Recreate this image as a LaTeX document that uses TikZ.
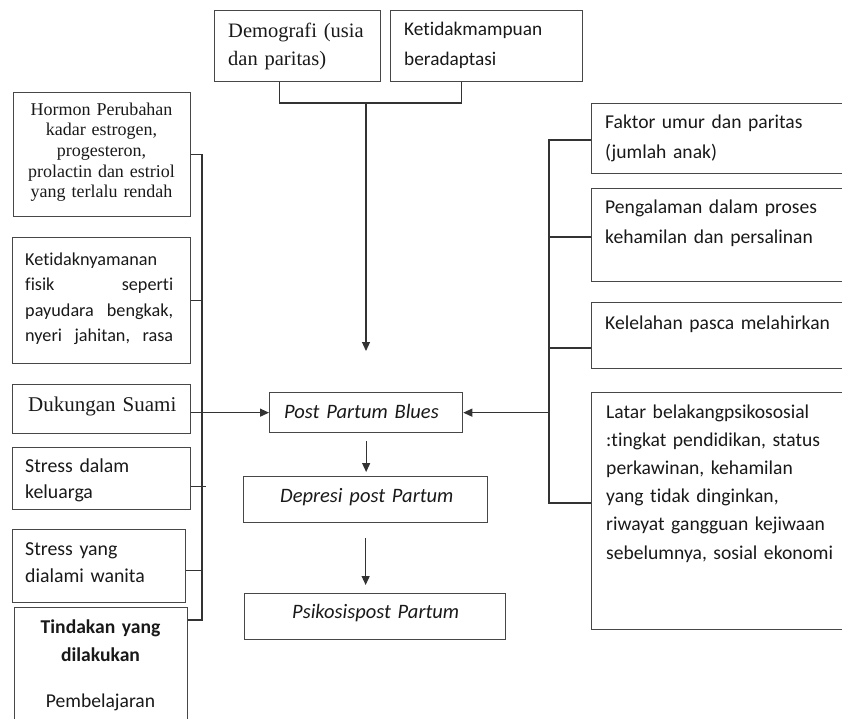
\documentclass[tikz,border=0pt]{standalone}
\usepackage{fontspec}
\setmainfont{Liberation Serif}
\newfontfamily\calfont[Ligatures=NoCommon]{Carlito}
\usetikzlibrary{arrows.meta}
\begin{document}
\begin{tikzpicture}[x=1pt,y=-1pt,
  box/.style={draw=black!72, line width=1.3pt, inner sep=0pt, anchor=north west},
  txt/.style={inner sep=0pt, anchor=base west, text=black!90, align=left},
  ctxt/.style={inner sep=0pt, anchor=base, text=black!90, align=center},
  wire/.style={draw=black!80, line width=1.2pt},
  arr/.style={wire, -{Triangle[width=8pt,length=9pt]}}]
\useasboundingbox (0,0) rectangle (842,718);
\clip (0,0) rectangle (842,718);
% boxes
\node[box, minimum width=166pt, minimum height=71pt] (demo) at (214,10) {};
\node[box, minimum width=192pt, minimum height=71pt] (ketid) at (390,10) {};
\node[box, minimum width=177pt, minimum height=124pt] (hormon) at (13,92) {};
\node[box, minimum width=178pt, minimum height=126pt] (nyaman) at (12,237) {};
\node[box, minimum width=178pt, minimum height=49pt] (dukungan) at (12,384) {};
\node[box, minimum width=178pt, minimum height=62pt] (keluarga) at (12,447) {};
\node[box, minimum width=173pt, minimum height=73pt] (wanita) at (12,529) {};
\node[box, minimum width=173pt, minimum height=160pt] (tindakan) at (14,607) {};
\node[box, minimum width=193pt, minimum height=40pt] (ppb) at (269,392) {};
\node[box, minimum width=244pt, minimum height=46pt] (depresi) at (243,476) {};
\node[box, minimum width=261pt, minimum height=46pt] (psikosis) at (244,593) {};
\node[box, minimum width=270pt, minimum height=70pt] (faktor) at (591,103) {};
\node[box, minimum width=270pt, minimum height=93pt] (pengalaman) at (591,188) {};
\node[box, minimum width=270pt, minimum height=66pt] (kelelahan) at (591,302) {};
\node[box, minimum width=270pt, minimum height=237pt] (latar) at (591,392) {};
% texts
\node[txt, text width=160pt, font=\fontsize{20.5}{28.5}\selectfont] (demo-t) at (228,37) {Demografi (usia\\dan paritas)};
\node[txt, text width=170pt, font=\calfont\fontsize{19.3}{30}\selectfont] (ketid-t) at (404,35) {Ketidakmampuan\\beradaptasi};
\node[ctxt, text width=172pt, font=\fontsize{18}{20.7}\selectfont] (hormon-t) at (101.5,115) {Hormon Perubahan\\kadar estrogen,\\progesteron,\\prolactin dan estriol\\yang terlalu rendah};
\begin{scope}
\clip (12,237) rectangle (190,356);
\node[txt, text width=148pt, font=\calfont\fontsize{18.2}{25.5}\selectfont] (nyaman-t) at (25,265) {Ketidaknyamanan\\fisik\hfill seperti\\payudara\hfill bengkak,\\nyeri\hfill jahitan,\hfill rasa};
\end{scope}
\node[txt, text width=170pt, font=\fontsize{21}{25}\selectfont] (dukungan-t) at (28,411) {Dukungan Suami};
\node[txt, text width=160pt, font=\calfont\fontsize{19.8}{26.5}\selectfont] (keluarga-t) at (25,472) {Stress dalam\\keluarga};
\node[txt, text width=160pt, font=\calfont\fontsize{19.8}{27}\selectfont] (wanita-t) at (25,555) {Stress yang\\dialami wanita};
\node[ctxt, text width=170pt, font=\calfont\bfseries\fontsize{19.6}{28}\selectfont] (tindakan-t) at (100.5,633) {Tindakan yang\\dilakukan};
\node[ctxt, text width=170pt, font=\calfont\fontsize{19.6}{28}\selectfont] (pembelajaran-t) at (100.5,707) {Pembelajaran};
\node[txt, text width=240pt, font=\calfont\fontsize{19.6}{30}\selectfont] (faktor-t) at (605,128) {Faktor umur dan paritas\\(jumlah anak)};
\node[txt, text width=240pt, font=\calfont\fontsize{19.6}{30}\selectfont] (pengalaman-t) at (605,213) {Pengalaman dalam proses\\kehamilan dan persalinan};
\node[txt, text width=240pt, font=\calfont\fontsize{19.6}{30}\selectfont] (kelelahan-t) at (605,329) {Kelelahan pasca melahirkan};
\node[txt, text width=240pt, font=\calfont\fontsize{19.6}{28.2}\selectfont] (latar-t) at (606,418) {Latar belakangpsikososial\\:tingkat pendidikan, status\\perkawinan, kehamilan\\yang tidak dinginkan,\\riwayat gangguan kejiwaan\\sebelumnya, sosial ekonomi};
\node[txt, text width=190pt, font=\calfont\itshape\fontsize{20.5}{25}\selectfont] (ppb-t) at (284,418) {Post Partum Blues};
\node[txt, text width=210pt, font=\calfont\itshape\fontsize{20.5}{25}\selectfont] (depresi-t) at (280,502) {Depresi post Partum};
\node[txt, text width=210pt, font=\calfont\itshape\fontsize{20.5}{25}\selectfont] (psikosis-t) at (292,618) {Psikosispost Partum};
% connectors
\coordinate (jt) at (366,103);
\coordinate (tt) at (366,351);
\draw[wire] ([xshift=-18pt]demo.south) |- (jt) -| ([xshift=-25pt]ketid.south);
\draw[arr] (jt) -- (tt);
\coordinate (lbBot) at (202,620);
\draw[wire] (hormon.east) -| (lbBot) -- (lbBot -| tindakan.east);
\draw[wire] (nyaman.east) -- (nyaman.east -| lbBot);
\draw[wire] ([yshift=-8pt]keluarga.east) -- ++(15,0);
\draw[wire] ([yshift=-4.5pt]wanita.east) -- ([yshift=-4.5pt]wanita.east -| lbBot);
\draw[arr] (dukungan.east |- ppb.west) -- (ppb.west);
\coordinate (rbTop) at (549,140);
\coordinate (rb2) at (549,237);
\coordinate (rb3) at (549,348);
\coordinate (rbBot) at (549,503);
\draw[wire] (rbTop -| faktor.west) -- (rbTop) -- (rbBot) -- (rbBot -| latar.west);
\draw[wire] (rb2) -- (rb2 -| pengalaman.west);
\draw[wire] (rb3) -- (rb3 -| kelelahan.west);
\draw[arr] (rbBot |- ppb.east) -- (ppb.east);
\draw[arr] ([yshift=-8pt]ppb.south) -- ([yshift=4pt]ppb.south |- depresi.north);
\draw[arr] ([yshift=-15pt]depresi.south) -- ([yshift=8pt]depresi.south |- psikosis.north);
\end{tikzpicture}
\end{document}
